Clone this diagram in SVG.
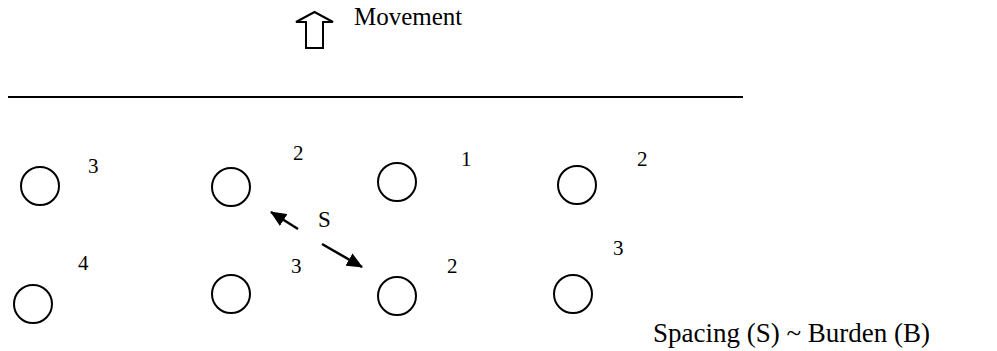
<svg xmlns="http://www.w3.org/2000/svg" width="997" height="351" viewBox="0 0 997 351">
<style>
.t{font-family:'Liberation Serif','DejaVu Serif',serif;fill:#000}
.hole{fill:none;stroke:#000;stroke-width:2}
.num{font-size:21px}
.conn{stroke:#000;stroke-width:2.5;fill:none}
</style>
<defs>
<marker id="ah" markerWidth="16" markerHeight="14" refX="15" refY="7" orient="auto" markerUnits="userSpaceOnUse" viewBox="0 0 16 14">
<path d="M0,0 L16,7 L0,14 z" fill="#000"/>
</marker>
</defs>
<rect width="997" height="351" fill="#fff"/>
<g id="movement">
<path d="M296,22 L314.5,12 L333,22 L323,22 L323,48 L306,48 L306,22 Z" fill="#fff" stroke="#000" stroke-width="2"/>
<text class="t" x="354" y="25" font-size="25" font-family="Liberation Serif, serif">Movement</text>
</g>
<g id="face">
<line x1="8" y1="97" x2="743" y2="97" stroke="#000" stroke-width="2"/>
</g>
<g id="h1"><circle class="hole" cx="40" cy="186" r="19"/><text class="t num" x="88" y="173" font-family="Liberation Serif, serif">3</text></g>
<g id="h2"><circle class="hole" cx="231" cy="187" r="19"/><text class="t num" x="293" y="160" font-family="Liberation Serif, serif">2</text></g>
<g id="h3"><circle class="hole" cx="397" cy="182" r="19"/><text class="t num" x="461" y="166" font-family="Liberation Serif, serif">1</text></g>
<g id="h4"><circle class="hole" cx="577" cy="185" r="19"/><text class="t num" x="637" y="166" font-family="Liberation Serif, serif">2</text></g>
<g id="h5"><circle class="hole" cx="33" cy="304" r="19"/><text class="t num" x="78" y="270" font-family="Liberation Serif, serif">4</text></g>
<g id="h6"><circle class="hole" cx="231" cy="294" r="19"/><text class="t num" x="291" y="273" font-family="Liberation Serif, serif">3</text></g>
<g id="h7"><circle class="hole" cx="397" cy="296" r="19"/><text class="t num" x="447" y="273" font-family="Liberation Serif, serif">2</text></g>
<g id="h8"><circle class="hole" cx="573" cy="294" r="19"/><text class="t num" x="613" y="255" font-family="Liberation Serif, serif">3</text></g>
<g id="connectors">
<line class="conn" x1="298" y1="229" x2="271" y2="212" marker-end="url(#ah)"/>
<line class="conn" x1="322" y1="244" x2="362" y2="267" marker-end="url(#ah)"/>
</g>
<text class="t" x="318" y="227" font-size="23" font-family="Liberation Serif, serif">S</text>
<text class="t" x="653" y="342" font-size="27" font-family="Liberation Serif, serif">Spacing (S) ~ Burden (B)</text>
</svg>
